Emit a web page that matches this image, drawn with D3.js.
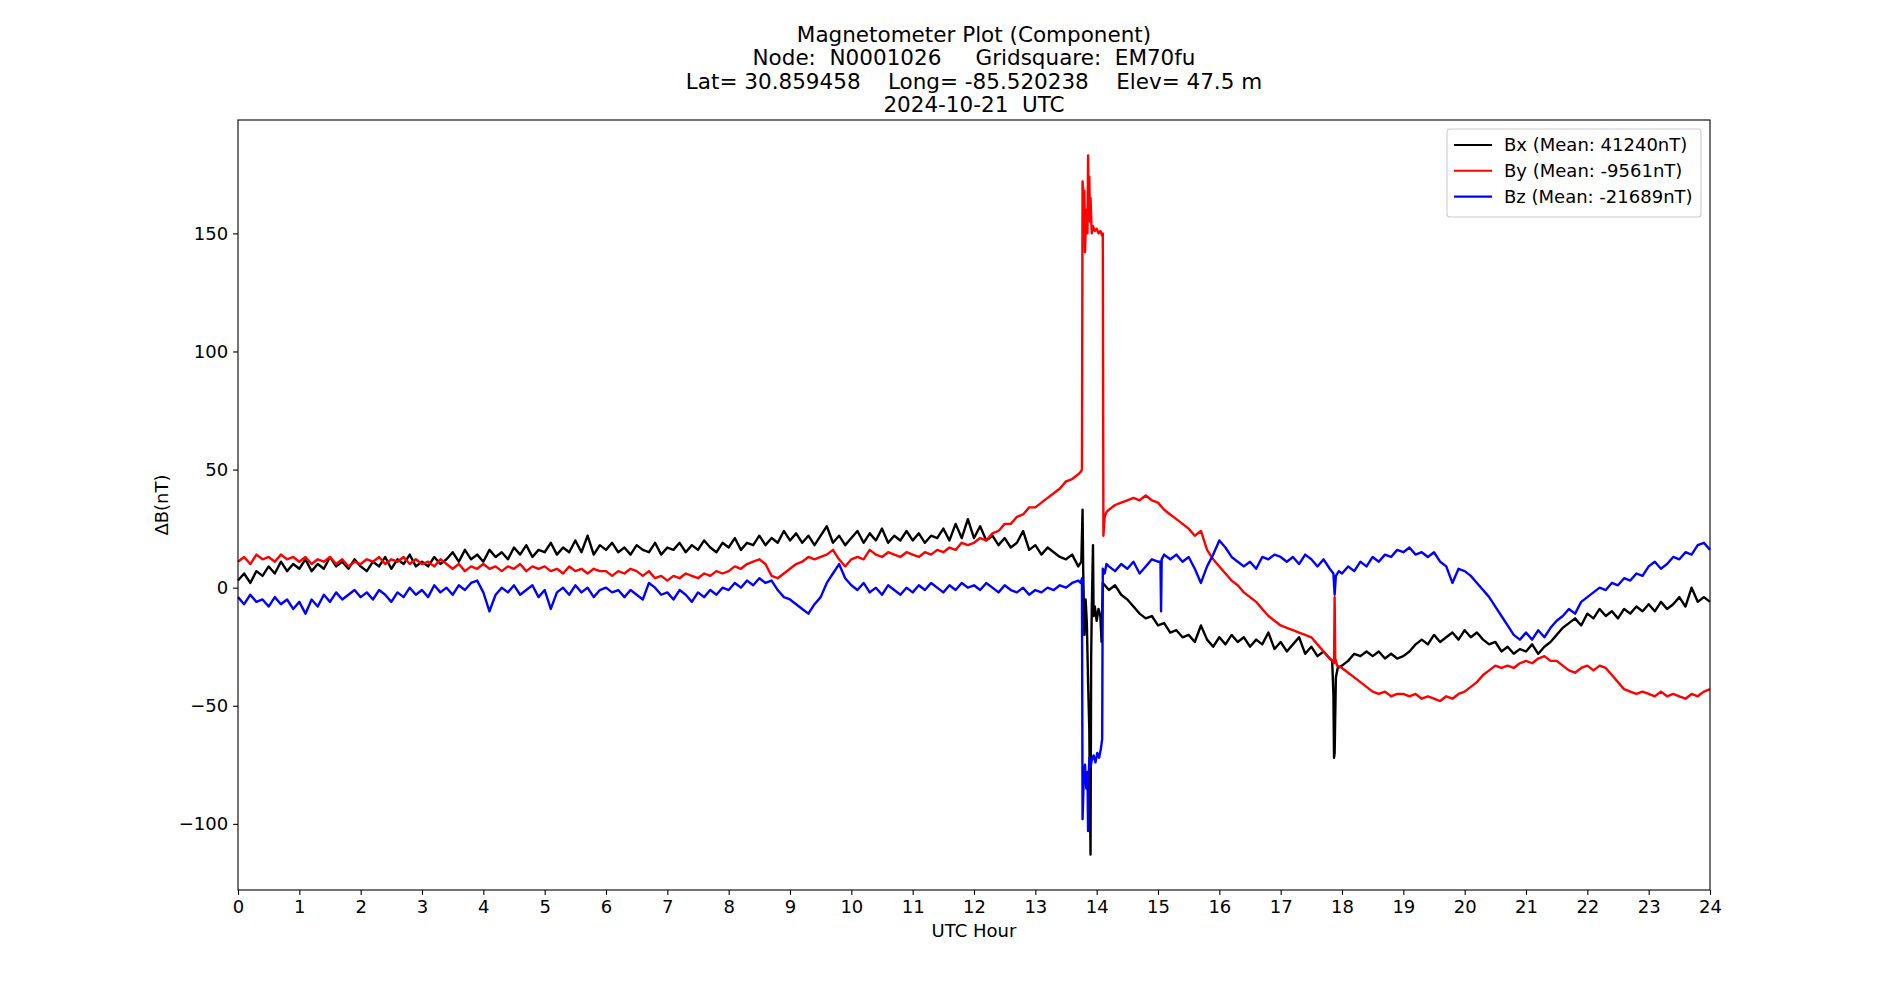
<!DOCTYPE html>
<html>
<head>
<meta charset="utf-8">
<script src="https://cdn.jsdelivr.net/npm/d3@7"></script>
<style>
  body { margin: 0; background: #fff; }
  text { font-family: "DejaVu Sans", sans-serif; fill: #000; }
</style>
</head>
<body>
<div id="viz"></div>
<script>

const titleLines = [
  'Magnetometer Plot (Component)',
  'Node:  N0001026     Gridsquare:  EM70fu',
  'Lat= 30.859458    Long= -85.520238    Elev= 47.5 m',
  '2024-10-21  UTC'
];
const seriesNames = ['Bx (Mean: 41240nT)', 'By (Mean: -9561nT)', 'Bz (Mean: -21689nT)'];
const seriesColors = ['#000000', '#ff0000', '#0000ff'];
const xTicks = d3.range(0, 25, 1);
const yTicks = [-100, -50, 0, 50, 100, 150];
const gridStep = 0.1; // hours between readings below

// values every 0.1 h from 0 to 24, null where the spike lists take over
const bxValues = [
  3, 6, 2, 7, 5, 9, 6, 11, 7, 10,
  8, 12, 7, 10, 8, 13, 9, 11, 8, 12,
  9, 7, 11, 9, 13, 8, 12, 10, 14, 9,
  11, 9, 13, 10, 12, 15, 11, 16, 12, 14,
  11, 16, 13, 15, 12, 17, 14, 18, 13, 16,
  15, 19, 14, 17, 15, 20, 15, 22, 14, 18,
  16, 19, 15, 17, 14, 18, 16, 15, 19, 14,
  17, 16, 19, 15, 18, 16, 20, 17, 15, 19,
  17, 21, 16, 19, 18, 22, 18, 21, 19, 24,
  20, 23, 19, 22, 18, 22, 26, 19, 22, 18,
  21, 24, 19, 23, 20, 25, 19, 22, 20, 24,
  20, 23, 19, 22, 21, 25, 20, 27, 21, 29,
  21, 26, 20, 22, 18, 21, 17, 19, 24, 16,
  18, 14, 17, 15, 13, 12, 14, 9, null, null,
  null, 2, -1, 1, -3, -5, -8, -11, -13, -12,
  -16, -15, -19, -18, -21, -20, -23, -16, -22, -25,
  -21, -24, -20, -23, -21, -25, -22, -24, -19, -26,
  -23, -27, -24, -21, -28, -25, -29, -27, -30, null,
  -33, -31, -28, -29, -27, -29, -27, -30, -28, -30,
  -29, -27, -24, -22, -24, -20, -23, -21, -19, -22,
  -18, -21, -19, -22, -24, -23, -27, -25, -28, -26,
  -27, -24, -28, -25, -23, -20, -17, -15, -13, -16,
  -11, -13, -9, -12, -10, -13, -9, -11, -8, -10,
  -7, -10, -6, -9, -7, -4, -8, 0, -6, -4,
  -6
];
const byValues = [
  11, 13, 10, 14, 12, 13, 11, 14, 12, 13,
  11, 13, 10, 12, 11, 13, 10, 12, 9, 11,
  10, 12, 11, 13, 10, 12, 11, 13, 10, 12,
  10, 11, 9, 12, 10, 8, 10, 7, 9, 8,
  10, 8, 9, 7, 9, 8, 10, 7, 9, 8,
  9, 7, 8, 6, 9, 7, 8, 6, 8, 7,
  7, 5, 7, 6, 8, 7, 5, 7, 4, 5,
  3, 5, 4, 6, 5, 4, 6, 5, 7, 6,
  7, 9, 8, 10, 11, 12, 10, 5, 4, 6,
  8, 10, 11, 13, 12, 13, 14, 16, 12, 9,
  12, 13, 12, 16, 14, 13, 15, 14, 13, 15,
  14, 13, 15, 14, 16, 15, 17, 16, 19, 18,
  19, 21, 20, 23, 24, 27, 27, 30, 31, 34,
  34, 36, 38, 40, 42, 45, 46, 48, null, null,
  null, null, 33, 35, 36, 37, 38, 37, 39, 37,
  36, 33, 31, 29, 27, 25, 22, 24, 16, 12,
  9, 6, 3, 1, -2, -4, -6, -9, -12, -14,
  -16, -17, -18, -19, -20, -21, -24, -27, -30, null,
  -34, -36, -38, -40, -42, -44, -45, -44, -46, -45,
  -45, -46, -45, -47, -46, -47, -48, -46, -47, -45,
  -44, -42, -40, -37, -35, -33, -34, -33, -34, -32,
  -31, -32, -30, -29, -31, -31, -33, -35, -36, -34,
  -33, -35, -33, -34, -37, -40, -43, -44, -45, -44,
  -45, -46, -44, -46, -45, -46, -47, -45, -46, -44,
  -43
];
const bzValues = [
  -4, -7, -3, -6, -5, -8, -4, -7, -5, -9,
  -6, -11, -5, -8, -3, -6, -2, -5, -3, -1,
  -4, -2, -5, -1, -3, -6, -2, -4, 0, -3,
  -1, -4, 1, -2, 0, -3, 1, -1, 2, 3,
  -2, -10, -3, 0, -2, 1, -3, -1, 1, -4,
  -1, -9, -2, 0, -3, 1, -2, 0, -4, -1,
  0, -2, -1, -4, -1, -3, -5, 2, 0, -3,
  -2, -5, -1, -3, -6, -2, -4, -1, -3, 0,
  -1, 2, 0, 3, 1, 4, 2, 3, -1, -4,
  -5, -7, -9, -11, -7, -4, 2, 6, 10, 4,
  1, -1, 2, -2, 0, -3, 1, -1, -3, 0,
  -2, 1, -1, 2, 0, -2, 1, -1, 2, 0,
  1, -1, 2, 0, -2, 1, -1, -2, 0, -3,
  -1, -2, 0, -1, 1, 0, 2, 3, null, null,
  null, null, 9, 7, 10, 8, 11, 6, 9, 12,
  11, 14, 12, 14, 11, 13, 8, 2, 9, 14,
  20, 17, 13, 11, 9, 11, 8, 13, 12, 14,
  13, 11, 13, 10, 14, 12, 9, 12, 8, null,
  6, 9, 7, 11, 9, 13, 11, 14, 13, 16,
  15, 17, 14, 15, 13, 15, 11, 9, 2, 8,
  7, 5, 2, -1, -4, -8, -12, -16, -20, -22,
  -19, -22, -18, -21, -17, -14, -12, -9, -11, -6,
  -4, -2, 0, -1, 2, 1, 4, 3, 6, 5,
  9, 11, 8, 10, 13, 12, 15, 14, 18, 19,
  16
];

// [hour, nT] readings around the disturbances
const bxSpikes = [
  [13.75, 11], [13.77, 33], [13.78, 8], [13.8, -20], [13.82, -5], [13.84, -15],
  [13.86, -40], [13.88, -60], [13.9, -113], [13.91, -30], [13.92, -10], [13.94, 18],
  [13.95, -12], [13.97, -8], [14.0, -14], [14.03, -9], [14.06, -12], [14.08, -23],
  [17.84, -31], [17.86, -45], [17.87, -72], [17.88, -70], [17.9, -38], [17.93, -34]
];
const bySpikes = [
  [13.74, 49], [13.76, 50], [13.77, 172], [13.79, 165], [13.8, 168], [13.81, 142],
  [13.83, 160], [13.85, 150], [13.86, 183], [13.87, 160], [13.88, 174], [13.89, 155],
  [13.9, 165], [13.92, 150], [13.94, 153], [13.97, 151], [14.0, 152], [14.03, 150],
  [14.06, 151], [14.09, 149], [14.1, 150], [14.11, 22], [14.13, 30], [14.16, 32],
  [17.85, -31], [17.87, -32], [17.88, -4], [17.89, -30], [17.92, -33]
];
const bzSpikes = [
  [13.74, 2], [13.76, 4], [13.77, -98], [13.79, -80], [13.81, -75], [13.83, -85],
  [13.85, -78], [13.86, -103], [13.87, -82], [13.88, -72], [13.9, -76], [13.92, -73],
  [13.95, -71], [13.98, -74], [14.01, -70], [14.04, -72], [14.07, -68], [14.09, -64],
  [14.1, 8], [14.13, 6], [14.16, 10],
  [15.04, 11], [15.05, -10], [15.06, 12],
  [17.86, 6], [17.88, -3], [17.9, 5], [17.95, 7]
];

function buildSeries(values, spikes) {
  const pts = [];
  values.forEach((v, i) => {
    if (v !== null) pts.push([+(i * gridStep).toFixed(2), v]);
  });
  spikes.forEach(p => pts.push(p));
  return pts.sort((a, b) => a[0] - b[0]);
}

const series = [
  buildSeries(bxValues, bxSpikes),
  buildSeries(byValues, bySpikes),
  buildSeries(bzValues, bzSpikes)
];

function drawChart() {

  let dimensions = {
    width: 1900,
    height: 1000,
    margin: { top: 120, right: 190, bottom: 110, left: 238 }
  };
  dimensions.boundedWidth = dimensions.width - dimensions.margin.left - dimensions.margin.right;
  dimensions.boundedHeight = dimensions.height - dimensions.margin.top - dimensions.margin.bottom;

  const svg = d3.select('#viz')
    .append('svg')
    .attr('width', dimensions.width)
    .attr('height', dimensions.height);

  const chart = svg.append('g')
    .attr('transform', `translate(${dimensions.margin.left},${dimensions.margin.top})`);

  // scales
  const xScale = d3.scaleLinear()
    .domain([0, 24])
    .range([0, dimensions.boundedWidth]);

  const yScale = d3.scaleLinear()
    .domain([-128, 198])
    .range([dimensions.boundedHeight, 0]);

  // lines
  const lineGen = d3.line()
    .x(d => xScale(d[0]))
    .y(d => yScale(d[1]));

  const plot = chart.append('g');
  series.forEach((s, i) => {
    plot.append('path')
      .attr('d', lineGen(s))
      .attr('fill', 'none')
      .attr('stroke', seriesColors[i])
      .attr('stroke-width', 2.4)
      .attr('stroke-linejoin', 'round');
  });

  // axes
  const tickLen = 4.9;
  const xAxis = chart.append('g')
    .attr('transform', `translate(0,${dimensions.boundedHeight})`)
    .call(d3.axisBottom(xScale).tickValues(xTicks).tickFormat(d3.format('d'))
      .tickSizeInner(tickLen).tickSizeOuter(0).tickPadding(4.9));

  const yAxis = chart.append('g')
    .call(d3.axisLeft(yScale).tickValues(yTicks).tickFormat(d3.format('d'))
      .tickSizeInner(tickLen).tickSizeOuter(0).tickPadding(4.9));

  [xAxis, yAxis].forEach(ax => {
    ax.select('.domain').remove();
    ax.selectAll('line').attr('stroke', '#000').attr('stroke-width', 1.1);
    ax.selectAll('text').style('font-size', '18px').style('font-family', '"DejaVu Sans", sans-serif');
  });

  // frame
  chart.append('rect')
    .attr('width', dimensions.boundedWidth)
    .attr('height', dimensions.boundedHeight)
    .attr('fill', 'none')
    .attr('stroke', '#000')
    .attr('stroke-width', 1.1);

  // axis labels
  svg.append('text')
    .attr('x', dimensions.margin.left + dimensions.boundedWidth / 2)
    .attr('y', 937)
    .attr('text-anchor', 'middle')
    .style('font-size', '18px')
    .text('UTC Hour');

  svg.append('text')
    .attr('transform', `translate(168,${dimensions.margin.top + dimensions.boundedHeight / 2}) rotate(-90)`)
    .attr('text-anchor', 'middle')
    .style('font-size', '18px')
    .text('ΔB(nT)');

  // title, spacing kept as in the source labels
  svg.append('text')
    .attr('text-anchor', 'middle')
    .style('font-size', '21.5px')
    .style('white-space', 'pre')
    .attr('xml:space', 'preserve')
    .selectAll('tspan')
    .data(titleLines)
    .join('tspan')
    .attr('x', dimensions.margin.left + dimensions.boundedWidth / 2)
    .attr('y', (d, i) => 42 + i * 23.4)
    .text(d => d);

  // legend
  const legend = svg.append('g')
    .attr('transform', 'translate(1447,129)');

  legend.append('rect')
    .attr('width', 254)
    .attr('height', 88)
    .attr('rx', 3)
    .attr('fill', '#fff')
    .attr('fill-opacity', 0.8)
    .attr('stroke', '#cccccc')
    .attr('stroke-width', 1.1);

  const rows = legend.selectAll('g.row')
    .data(seriesNames)
    .join('g')
    .attr('class', 'row')
    .attr('transform', (d, i) => `translate(0,${16 + i * 25.8})`);

  rows.append('line')
    .attr('x1', 7).attr('x2', 45)
    .attr('stroke', (d, i) => seriesColors[i])
    .attr('stroke-width', 2.1);

  rows.append('text')
    .attr('x', 57)
    .attr('dy', '0.35em')
    .style('font-size', '18px')
    .text(d => d);
}

drawChart();
</script>
</body>
</html>
